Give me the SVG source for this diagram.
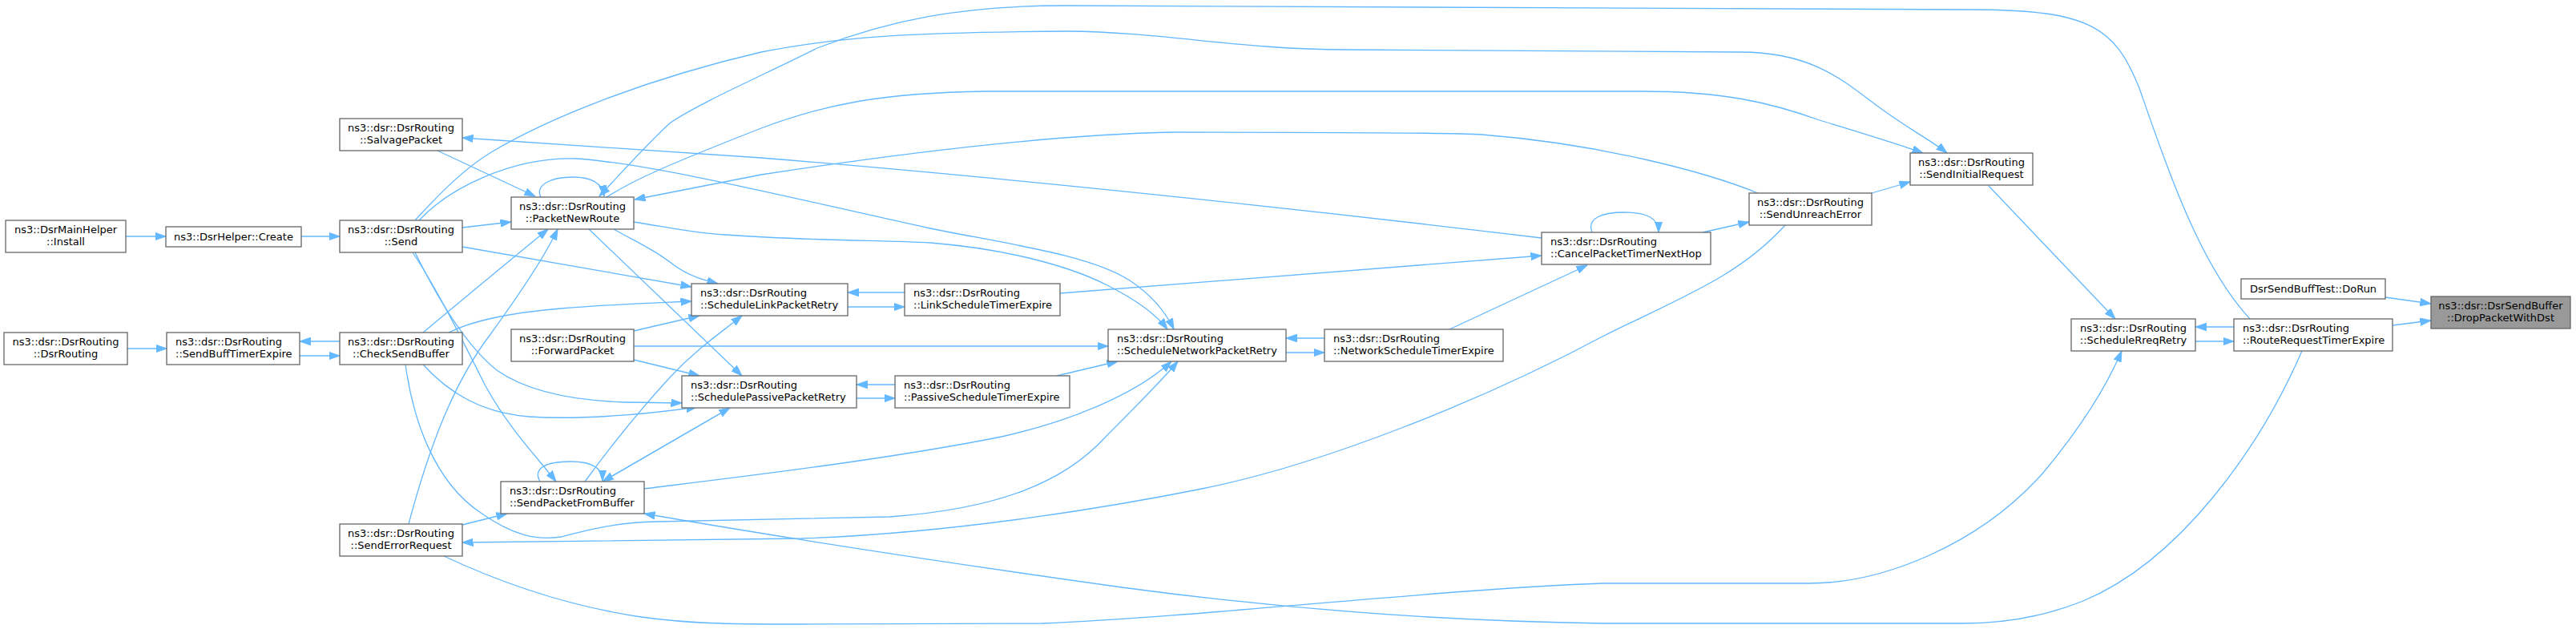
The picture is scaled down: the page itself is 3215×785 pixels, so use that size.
<svg xmlns="http://www.w3.org/2000/svg" width="3215" height="785" viewBox="0 0 3215 785">
<style>
.node rect{fill:#ffffff;stroke:#666666;stroke-width:1.3}
.node.root rect{fill:#999999}
text{font-family:"DejaVu Sans","Liberation Sans",sans-serif;font-size:13px;fill:#000000}
.c{text-anchor:middle}
.l{text-anchor:start}
#edges path{fill:none;stroke:#63b8ff;stroke-width:1.3;marker-end:url(#ah)}
</style>
<defs>
<marker id="ah" markerUnits="userSpaceOnUse" markerWidth="14" markerHeight="10" refX="13.5" refY="5" orient="auto">
<path d="M0,0.3 L13.5,5 L0,9.7 Z" fill="#63b8ff" stroke="#63b8ff" stroke-width="1"/>
</marker>
</defs>
<rect x="0" y="0" width="3215" height="785" fill="#ffffff"/>
<g id="edges">
<path d="M157,295 L207,295"/>
<path d="M376,295 L424,295"/>
<path d="M159,435 L208,435"/>
<path d="M424,426 L374,426"/>
<path d="M374,444 L424,444"/>
<path d="M577,284 L638,277"/>
<path d="M546,188 L668,245"/>
<path d="M675,246 C668,232 685,221 715,221 C740,221 752,229 754,245"/>
<path d="M2808,398 C2745,330 2705,210 2670,110 C2640,35 2610,12 2460,12 L1330,7 C1200,7 1110,25 1020,60 C950,95 870,130 837,153 C815,172 790,200 748,245"/>
<path d="M757,246 C790,225 830,207 950,160 C1030,130 1100,116 1230,114 L2050,114 C2150,114 2210,128 2271,150 C2330,168 2370,180 2400,191"/>
<path d="M518,275 C550,240 580,210 613,190 C680,150 800,100 950,65 C1050,45 1150,40 1333,39 C1450,40 1550,62 1681,62 L2173,65 C2260,65 2300,100 2340,130 C2380,160 2410,175 2430,191"/>
<path d="M523,275 C560,235 640,195 720,198 C820,205 1000,250 1161,285 C1260,305 1360,318 1410,350 C1440,370 1455,390 1465,411"/>
<path d="M791,277 C830,283 870,292 906,293 C1000,300 1100,300 1161,303 C1250,310 1330,330 1380,355 C1420,375 1445,395 1457,411"/>
<path d="M2194,241 C2130,215 2000,180 1850,168 C1800,165 1600,165 1465,165 C1300,168 1100,195 950,218 L792,249"/>
<path d="M1924,297 C1700,270 1300,225 950,197 L577,172"/>
<path d="M577,308 L863,358"/>
<path d="M560,415 C590,400 640,390 700,385 C760,380 820,378 863,376"/>
<path d="M791,413 L873,394"/>
<path d="M766,286 C790,300 815,310 840,330 C860,345 880,350 896,354"/>
<path d="M1129,365 L1058,365"/>
<path d="M1058,383 L1129,383"/>
<path d="M1323,366 L1924,319"/>
<path d="M735,286 L926,469"/>
<path d="M518,315 C545,370 580,430 620,462 C660,490 720,500 780,502 L851,503"/>
<path d="M528,455 C560,490 600,515 660,520 C720,524 800,518 870,508"/>
<path d="M791,449 L873,469"/>
<path d="M1117,480 L1069,480"/>
<path d="M1069,497 L1117,497"/>
<path d="M752,601 L911,509"/>
<path d="M911,509 L752,601"/>
<path d="M730,601 C760,560 800,510 837,470 C870,435 900,415 926,394"/>
<path d="M674,601 C665,585 680,576 712,576 C740,576 752,585 752,600"/>
<path d="M515,315 C545,360 575,420 605,480 C635,535 670,570 694,601"/>
<path d="M804,610 C900,598 1100,575 1250,545 C1340,525 1420,490 1462,451"/>
<path d="M506,455 C515,520 540,600 600,640 C640,668 670,675 700,670 C740,660 770,652 820,651 L1110,645 C1250,635 1330,600 1380,545 C1420,505 1450,475 1470,451"/>
<path d="M791,432 L1383,432"/>
<path d="M1319,469 L1395,451"/>
<path d="M1653,422 L1605,422"/>
<path d="M1605,440 L1653,440"/>
<path d="M1809,411 L1981,331"/>
<path d="M1987,290 C1980,272 2000,265 2027,265 C2055,265 2070,272 2070,290"/>
<path d="M2125,290 L2183,277"/>
<path d="M2336,241 L2384,227"/>
<path d="M2228,281 C2170,345 2100,370 2000,420 C1850,500 1650,580 1500,610 C1400,630 1200,665 1000,672 L577,677"/>
<path d="M510,654 C535,560 565,480 610,420 C650,365 680,320 696,286"/>
<path d="M528,415 C570,380 630,330 684,286"/>
<path d="M577,655 L633,641"/>
<path d="M554,694 C620,725 700,755 800,770 C860,778 900,779 1000,779 L1300,778 C1500,770 1800,735 2000,728 L2258,728 C2350,728 2470,680 2550,590 C2600,530 2630,480 2648,438"/>
<path d="M2873,438 C2820,560 2720,700 2600,750 C2550,770 2500,778 2450,778 L2000,778 C1800,775 1600,760 1400,733 C1200,705 1000,675 804,641"/>
<path d="M2482,232 L2640,398"/>
<path d="M2788,408 L2740,408"/>
<path d="M2740,426 L2788,426"/>
<path d="M2977,371 L3034,379"/>
<path d="M2986,406 L3034,400"/>
</g>
<g id="n_install" class="node"><rect x="7" y="275" width="150" height="40"/><text x="82" y="290.5" class="c">ns3::DsrMainHelper</text><text x="82" y="305.5" class="c">::Install</text></g>
<g id="n_create" class="node"><rect x="207" y="283" width="169" height="25"/><text x="291.5" y="300" class="c">ns3::DsrHelper::Create</text></g>
<g id="n_send" class="node"><rect x="424" y="275" width="153" height="40"/><text x="500.5" y="290.5" class="c">ns3::dsr::DsrRouting</text><text x="500.5" y="305.5" class="c">::Send</text></g>
<g id="n_salvage" class="node"><rect x="424" y="148" width="153" height="40"/><text x="500.5" y="163.5" class="c">ns3::dsr::DsrRouting</text><text x="500.5" y="178.5" class="c">::SalvagePacket</text></g>
<g id="n_pnr" class="node"><rect x="638" y="246" width="153" height="40"/><text x="714.5" y="261.5" class="c">ns3::dsr::DsrRouting</text><text x="714.5" y="276.5" class="c">::PacketNewRoute</text></g>
<g id="n_dsrrouting" class="node"><rect x="5" y="415" width="154" height="40"/><text x="82" y="430.5" class="c">ns3::dsr::DsrRouting</text><text x="82" y="445.5" class="c">::DsrRouting</text></g>
<g id="n_sbte" class="node"><rect x="208" y="415" width="166" height="40"/><text x="219" y="430.5" class="l">ns3::dsr::DsrRouting</text><text x="219" y="445.5" class="l">::SendBuffTimerExpire</text></g>
<g id="n_csb" class="node"><rect x="424" y="415" width="153" height="40"/><text x="500.5" y="430.5" class="c">ns3::dsr::DsrRouting</text><text x="500.5" y="445.5" class="c">::CheckSendBuffer</text></g>
<g id="n_fp" class="node"><rect x="638" y="411" width="153" height="40"/><text x="714.5" y="426.5" class="c">ns3::dsr::DsrRouting</text><text x="714.5" y="441.5" class="c">::ForwardPacket</text></g>
<g id="n_slpr" class="node"><rect x="863" y="354" width="195" height="40"/><text x="874" y="369.5" class="l">ns3::dsr::DsrRouting</text><text x="874" y="384.5" class="l">::ScheduleLinkPacketRetry</text></g>
<g id="n_lste" class="node"><rect x="1129" y="354" width="194" height="40"/><text x="1140" y="369.5" class="l">ns3::dsr::DsrRouting</text><text x="1140" y="384.5" class="l">::LinkScheduleTimerExpire</text></g>
<g id="n_sppr" class="node"><rect x="851" y="469" width="218" height="40"/><text x="862" y="484.5" class="l">ns3::dsr::DsrRouting</text><text x="862" y="499.5" class="l">::SchedulePassivePacketRetry</text></g>
<g id="n_pste" class="node"><rect x="1117" y="469" width="218" height="40"/><text x="1128" y="484.5" class="l">ns3::dsr::DsrRouting</text><text x="1128" y="499.5" class="l">::PassiveScheduleTimerExpire</text></g>
<g id="n_snpr" class="node"><rect x="1383" y="411" width="222" height="40"/><text x="1394" y="426.5" class="l">ns3::dsr::DsrRouting</text><text x="1394" y="441.5" class="l">::ScheduleNetworkPacketRetry</text></g>
<g id="n_nste" class="node"><rect x="1653" y="411" width="223" height="40"/><text x="1664" y="426.5" class="l">ns3::dsr::DsrRouting</text><text x="1664" y="441.5" class="l">::NetworkScheduleTimerExpire</text></g>
<g id="n_cptnh" class="node"><rect x="1924" y="290" width="211" height="40"/><text x="1935" y="305.5" class="l">ns3::dsr::DsrRouting</text><text x="1935" y="320.5" class="l">::CancelPacketTimerNextHop</text></g>
<g id="n_sue" class="node"><rect x="2183" y="241" width="153" height="40"/><text x="2259.5" y="256.5" class="c">ns3::dsr::DsrRouting</text><text x="2259.5" y="271.5" class="c">::SendUnreachError</text></g>
<g id="n_sir" class="node"><rect x="2384" y="191" width="153" height="40"/><text x="2460.5" y="206.5" class="c">ns3::dsr::DsrRouting</text><text x="2460.5" y="221.5" class="c">::SendInitialRequest</text></g>
<g id="n_dorun" class="node"><rect x="2797" y="348" width="180" height="25"/><text x="2887" y="365" class="c">DsrSendBuffTest::DoRun</text></g>
<g id="n_drop" class="node root"><rect x="3034" y="370" width="174" height="40"/><text x="3121" y="385.5" class="c">ns3::dsr::DsrSendBuffer</text><text x="3121" y="400.5" class="c">::DropPacketWithDst</text></g>
<g id="n_srr" class="node"><rect x="2585" y="398" width="155" height="40"/><text x="2662.5" y="413.5" class="c">ns3::dsr::DsrRouting</text><text x="2662.5" y="428.5" class="c">::ScheduleRreqRetry</text></g>
<g id="n_rrte" class="node"><rect x="2788" y="398" width="198" height="40"/><text x="2799" y="413.5" class="l">ns3::dsr::DsrRouting</text><text x="2799" y="428.5" class="l">::RouteRequestTimerExpire</text></g>
<g id="n_spfb" class="node"><rect x="625" y="601" width="179" height="40"/><text x="636" y="616.5" class="l">ns3::dsr::DsrRouting</text><text x="636" y="631.5" class="l">::SendPacketFromBuffer</text></g>
<g id="n_ser" class="node"><rect x="424" y="654" width="153" height="40"/><text x="500.5" y="669.5" class="c">ns3::dsr::DsrRouting</text><text x="500.5" y="684.5" class="c">::SendErrorRequest</text></g>
</svg>
